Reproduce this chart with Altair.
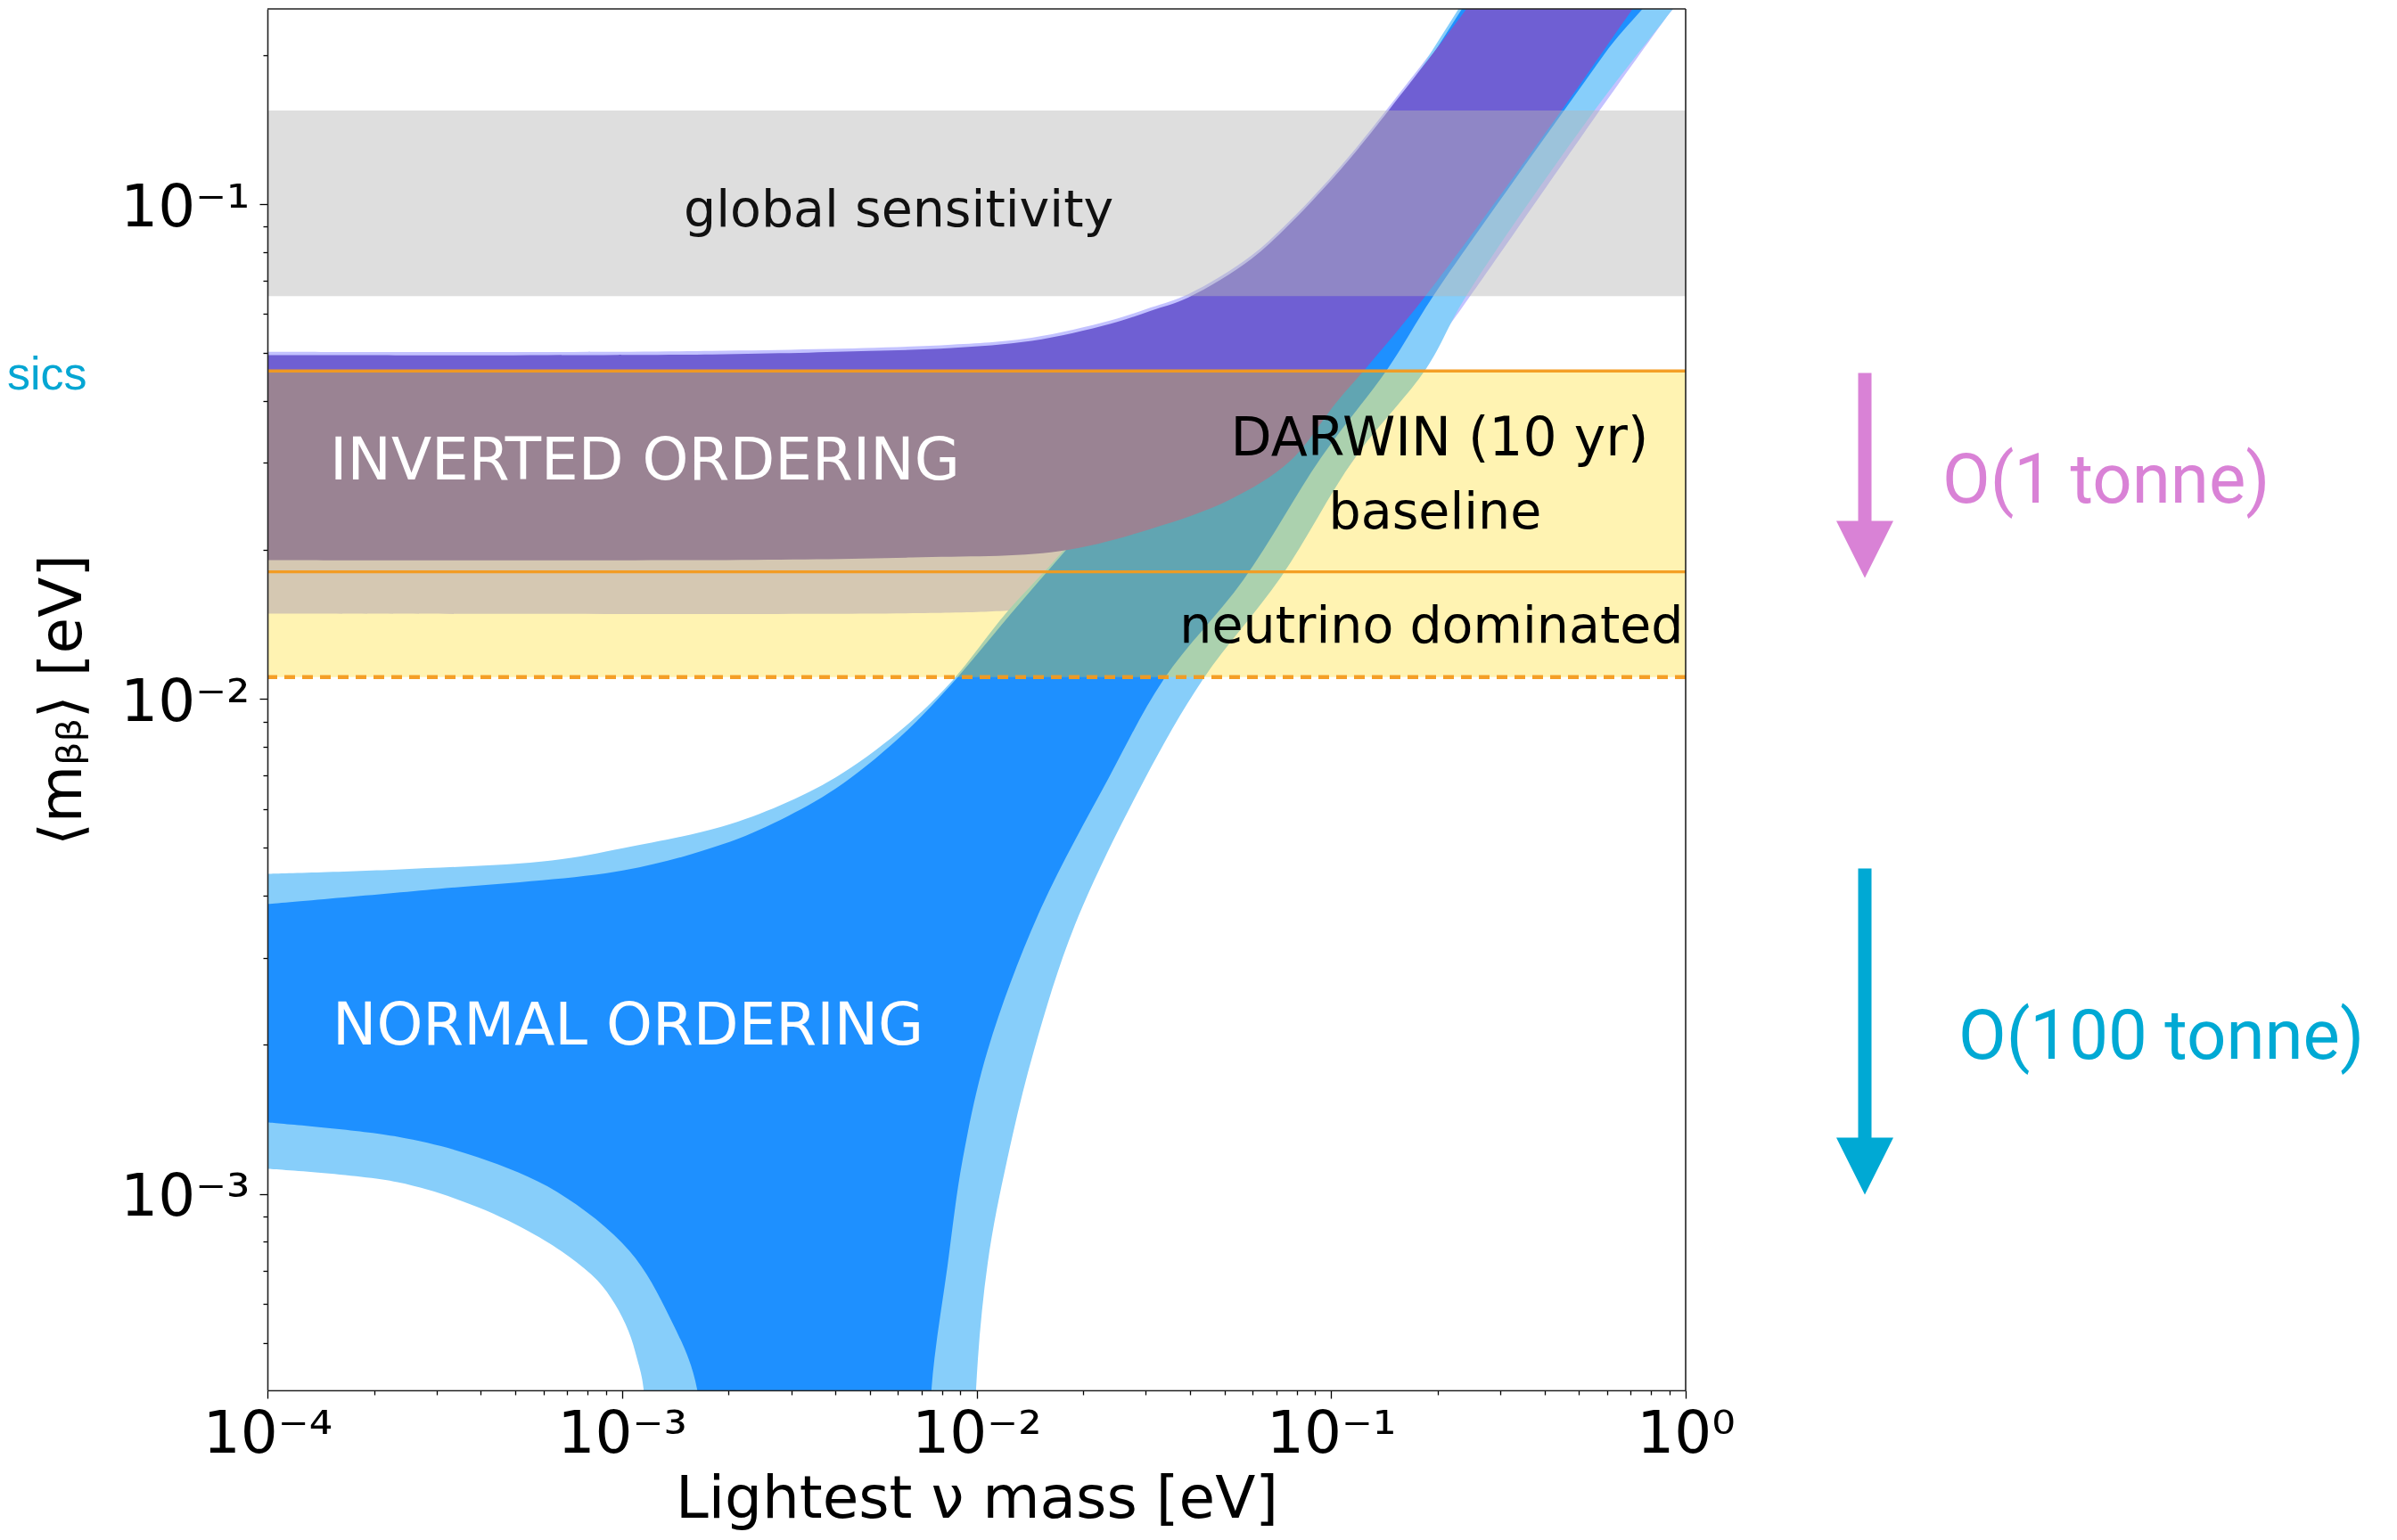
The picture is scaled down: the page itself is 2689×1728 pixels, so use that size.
import altair as alt
import pandas as pd

# ---------------- data (all in eV) ----------------
X_DOMAIN = [1e-4, 1.0]
Y_DOMAIN = [4.01e-4, 0.248]

# Normal ordering, 3 sigma band (light)
no3_up_x = [1e-4, 2.38e-4, 6.34e-4, 1.013e-3, 1.915e-3, 2.8e-3, 4.018e-3, 6.0e-3, 8.378e-3, 0.01214, 0.0176,
            0.030, 0.10, 1.0]
no3_up_y = [4.433e-3, 4.526e-3, 4.718e-3, 5.00e-3, 5.524e-3, 6.1e-3, 6.95e-3, 8.55e-3, 0.01072, 0.01494, 0.0200,
            0.0325, 0.1005, 1.0]
no3_lo_x = [1e-4, 2.329e-4, 3.920e-4, 5.678e-4, 7.118e-4, 8.516e-4, 9.561e-4, 1.043e-3, 1.1048e-3, 1.1505e-3, 1.17e-3,
            9.85e-3, 9.970e-3, 0.01075, 0.012213, 0.014526, 0.018957, 0.029603, 0.043631, 0.072209, 0.11673,
            0.18550, 0.23929, 0.55399, 0.91668, 1.0]
no3_lo_y = [1.1234e-3, 1.0559e-3, 9.401e-4, 8.270e-4, 7.454e-4, 6.69e-4, 5.982e-4, 5.284e-4, 4.626e-4, 4.035e-4, 2.0e-4,
            2.0e-4, 4.035e-4, 7.24e-4, 1.1759e-3, 1.951e-3, 3.4994e-3, 6.824e-3, 0.010993, 0.017636, 0.030737,
            0.046541, 0.06483, 0.15485, 0.24734, 0.27]

# Normal ordering, best band (dark)
no_up_x = [1e-4, 3.02e-4, 1.013e-3, 1.915e-3, 2.8e-3, 4.018e-3, 6.0e-3, 8.378e-3, 0.012572, 0.017584, 0.0327,
           0.10, 1.0]
no_up_y = [3.851e-3, 4.131e-3, 4.507e-3, 5.083e-3, 5.7e-3, 6.6e-3, 8.3e-3, 0.010589, 0.014938, 0.019726, 0.0330,
           0.098, 0.975]
no_lo_x = [1e-4, 2.329e-4, 3.920e-4, 6.564e-4, 1.0489e-3, 1.3608e-3, 1.6283e-3, 1.65e-3,
           7.30e-3, 7.464e-3, 8.2818e-3, 9.1411e-3, 0.01075, 0.014951, 0.02362, 0.033817, 0.056613, 0.09369,
           0.14459, 0.19316, 0.33093, 0.59033, 1.0]
no_lo_y = [1.394e-3, 1.3045e-3, 1.1857e-3, 1.0088e-3, 7.673e-4, 5.645e-4, 4.035e-4, 2.0e-4,
           2.0e-4, 4.035e-4, 7.151e-4, 1.1759e-3, 1.951e-3, 3.679e-3, 6.938e-3, 0.010993, 0.017418, 0.030737,
           0.046541, 0.06483, 0.11254, 0.2011, 0.34]

# Inverted ordering, 3 sigma band
io3_up_x = [1e-4, 1.8e-3, 8.5e-3, 0.0143, 0.0239, 0.031, 0.0396, 0.0596, 0.0792, 0.0964, 0.114, 0.1446, 0.2393, 1.0]
io3_up_y = [0.0503, 0.0505, 0.0520, 0.0537, 0.0582, 0.0618, 0.0658, 0.0787, 0.0949, 0.1101, 0.1264, 0.1563, 0.2502, 1.045]
io3_lo_x = [1e-4, 8.378e-3, 0.013243, 0.023895, 0.040246, 0.058278, 0.077831, 0.10397, 0.13885, 0.1855, 0.23381,
            0.55721, 0.88548, 1.0]
io3_lo_y = [0.014876, 0.014938, 0.015125, 0.015505, 0.016502, 0.018917, 0.02234, 0.027483, 0.036728, 0.049114,
            0.061699, 0.15043, 0.23936, 0.27]

# Inverted ordering, best band
io_up_x = [1e-4, 1.8e-3, 5e-3, 8.5e-3, 0.0143, 0.0239, 0.031, 0.0396, 0.0596, 0.0792, 0.0964, 0.114, 0.1446, 0.2393, 1.0]
io_up_y = [0.0495, 0.0497, 0.0505, 0.0512, 0.0529, 0.0573, 0.0609, 0.0648, 0.0775, 0.0935, 0.1085, 0.1245, 0.1540, 0.2465, 1.03]
io_lo_x = [1e-4, 1.807e-3, 6.5725e-3, 0.017083, 0.031007, 0.051898, 0.076488, 0.10397, 0.12516, 0.18337, 0.44714,
           0.70656, 1.0]
io_lo_y = [0.01909, 0.01909, 0.019322, 0.01989, 0.022064, 0.025293, 0.030232, 0.039924, 0.046541, 0.06483, 0.15485,
           0.24734, 0.35]

# horizontal sensitivity bands
global_band = [0.0652, 0.1546]
darwin_baseline = [0.01807, 0.0460]
darwin_nu_floor = 0.01107

# tick values
x_ticks = [m * 10.0 ** e for e in range(-4, 0) for m in range(1, 10)] + [1.0]
y_ticks = [m * 10.0 ** e for e in range(-4, 0) for m in range(1, 10)
           if Y_DOMAIN[0] <= m * 10.0 ** e <= Y_DOMAIN[1]]

# ---------------- helpers ----------------
FONT = "DejaVu Sans"
W, H = 1591, 1550

xscale = alt.Scale(type="log", domain=X_DOMAIN, nice=False)
yscale = alt.Scale(type="log", domain=Y_DOMAIN, nice=False)

major = "abs(log(datum.value)/LN10 - round(log(datum.value)/LN10)) < 0.001"
lab = ("(" + major + ") ? ('10' + (round(log(datum.value)/LN10) < 0 ? '\u207b' : '') + "
       "['\u2070','\u00b9','\u00b2','\u00b3','\u2074','\u2075'][abs(round(log(datum.value)/LN10))]) : ''")

common_axis = dict(labelExpr=lab, labelFont=FONT, labelFontSize=66, labelColor="#000",
                   titleFont=FONT, titleFontSize=66, titleFontWeight="normal", titleColor="#000",
                   tickColor="#000", tickWidth=1.3, domain=True, domainColor="#222", domainWidth=1.6,
                   grid=False, labelOverlap=False, labelFlush=False, labelBound=False, zindex=1,
                   tickSize={"condition": {"test": major, "value": 9}, "value": 5})

xaxis = alt.Axis(values=x_ticks, labelPadding=8, titlePadding=8, **common_axis)
yaxis = alt.Axis(values=y_ticks, labelPadding=11, titlePadding=30, labelOffset=4, **common_axis)
XT = "Lightest \u03bd mass [eV]"
YT = "\u27e8m\u1d66\u1d66\u27e9 [eV]"


def X(f):
    return alt.X(f, type="quantitative", scale=xscale, axis=xaxis, title=XT)


def Y(f):
    return alt.Y(f, type="quantitative", scale=yscale, axis=yaxis, title=YT)


def polygon(ux, uy, lx, ly):
    xs = list(ux) + list(reversed(lx))
    ys = list(uy) + list(reversed(ly))
    return pd.DataFrame({"m": xs, "mbb": ys, "i": list(range(len(xs)))})


def band(ux, uy, lx, ly, color, opacity=1.0):
    return alt.Chart(polygon(ux, uy, lx, ly)).mark_line(
        filled=True, color=color, opacity=opacity, clip=True, strokeWidth=0,
        interpolate="catmull-rom"
    ).encode(x=X("m"), y=Y("mbb"), order=alt.Order("i:Q"))


def hband(lo, hi, color, opacity):
    df = pd.DataFrame({"x0": [X_DOMAIN[0]], "x1": [X_DOMAIN[1]], "lo": [lo], "hi": [hi]})
    return alt.Chart(df).mark_rect(color=color, opacity=opacity, clip=True).encode(
        x=X("x0"), x2="x1", y=Y("lo"), y2="hi")


def hline(v, dash=None, width=3.4):
    kw = dict(color="#f39a1e", strokeWidth=width, opacity=0.95, clip=True)
    if dash:
        kw["strokeDash"] = dash
    return alt.Chart(pd.DataFrame({"v": [v]})).mark_rule(**kw).encode(y=Y("v"))


def label(txt, x, y, size, color="#000", align="center", font=FONT):
    df = pd.DataFrame({"m": [x], "mbb": [y], "t": [txt]})
    return alt.Chart(df).mark_text(font=font, fontSize=size, color=color, align=align,
                                   baseline="alphabetic").encode(x=X("m"), y=Y("mbb"), text="t")


def px_text(txt, px, py, size, color, font, weight=400):
    return alt.Chart(pd.DataFrame({"t": [txt]})).mark_text(
        font=font, fontSize=size, color=color, align="left", baseline="alphabetic", fontWeight=weight
    ).encode(x=alt.value(px), y=alt.value(py), text="t")


def arrow(px, y_top, y_head_top, y_tip, color):
    shaft = alt.Chart(pd.DataFrame({"a": [0]})).mark_rule(
        color=color, strokeWidth=15, strokeCap="butt").encode(
        x=alt.value(px), y=alt.value(y_top), y2=alt.value(y_head_top + 4))
    head = alt.Chart(pd.DataFrame({"a": [0]})).mark_point(
        shape="M-1,-1L1,-1L0,1Z", filled=True, color=color, opacity=1, size=64 * 64, strokeWidth=0).encode(
        x=alt.value(px), y=alt.value((y_head_top + y_tip) / 2))
    return shaft + head


layers = [
    band(io3_up_x, io3_up_y, io3_lo_x, io3_lo_y, "#c3c2ff"),
    band(no3_up_x, no3_up_y, no3_lo_x, no3_lo_y, "#87cefa"),
    band(no_up_x, no_up_y, no_lo_x, no_lo_y, "#1e90ff"),
    band(io_up_x, io_up_y, io_lo_x, io_lo_y, "#6f5fd3"),
    hband(darwin_nu_floor, darwin_baseline[1], "#ffd700", 0.3),
    hband(global_band[0], global_band[1], "#b6b6b6", 0.45),
    hline(darwin_baseline[1]),
    hline(darwin_baseline[0]),
    hline(darwin_nu_floor, dash=[12, 8], width=4.5),
    label("global sensitivity", 6.03e-3, 0.0900, 57, "#111"),
    label("INVERTED ORDERING", 1.5e-4, 0.02782, 66, "#ffffff", "left"),
    label("NORMAL ORDERING", 1.526e-4, 2.0e-3, 66, "#ffffff", "left"),
    label("DARWIN (10 yr)", 0.2023, 0.03112, 60, "#000"),
    label("baseline", 0.1965, 0.02207, 57, "#000"),
    label("neutrino dominated", 0.1920, 0.01303, 57, "#000"),
    # frame (top / right spines)
    alt.Chart(pd.DataFrame({"a": [0]})).mark_rule(color="#222", strokeWidth=1.6).encode(y=alt.value(0)),
    alt.Chart(pd.DataFrame({"a": [0]})).mark_rule(color="#222", strokeWidth=1.6).encode(x=alt.value(W)),
    # annotations outside the axes
    arrow(1792, 408.5, 574.5, 638.5, "#d982d6"),
    px_text("O(1 tonne)", 1879, 553.5, 78, "#d982d6", "Roboto", 400),
    arrow(1792, 964.5, 1266.5, 1330.5, "#00a9d4"),
    px_text("O(100 tonne)", 1897, 1177.5, 78, "#00a9d4", "Roboto", 400),
    px_text("sics", -292, 426.5, 52, "#05a6d3", "'Liberation Sans Narrow', 'Liberation Sans', sans-serif"),
]

chart = alt.layer(*layers).properties(
    width=W, height=H, padding={"left": 0, "top": 1, "right": 0, "bottom": 12}
).configure_view(stroke=None)

chart.save("out.html", embed_options={"renderer": "svg", "actions": False})
